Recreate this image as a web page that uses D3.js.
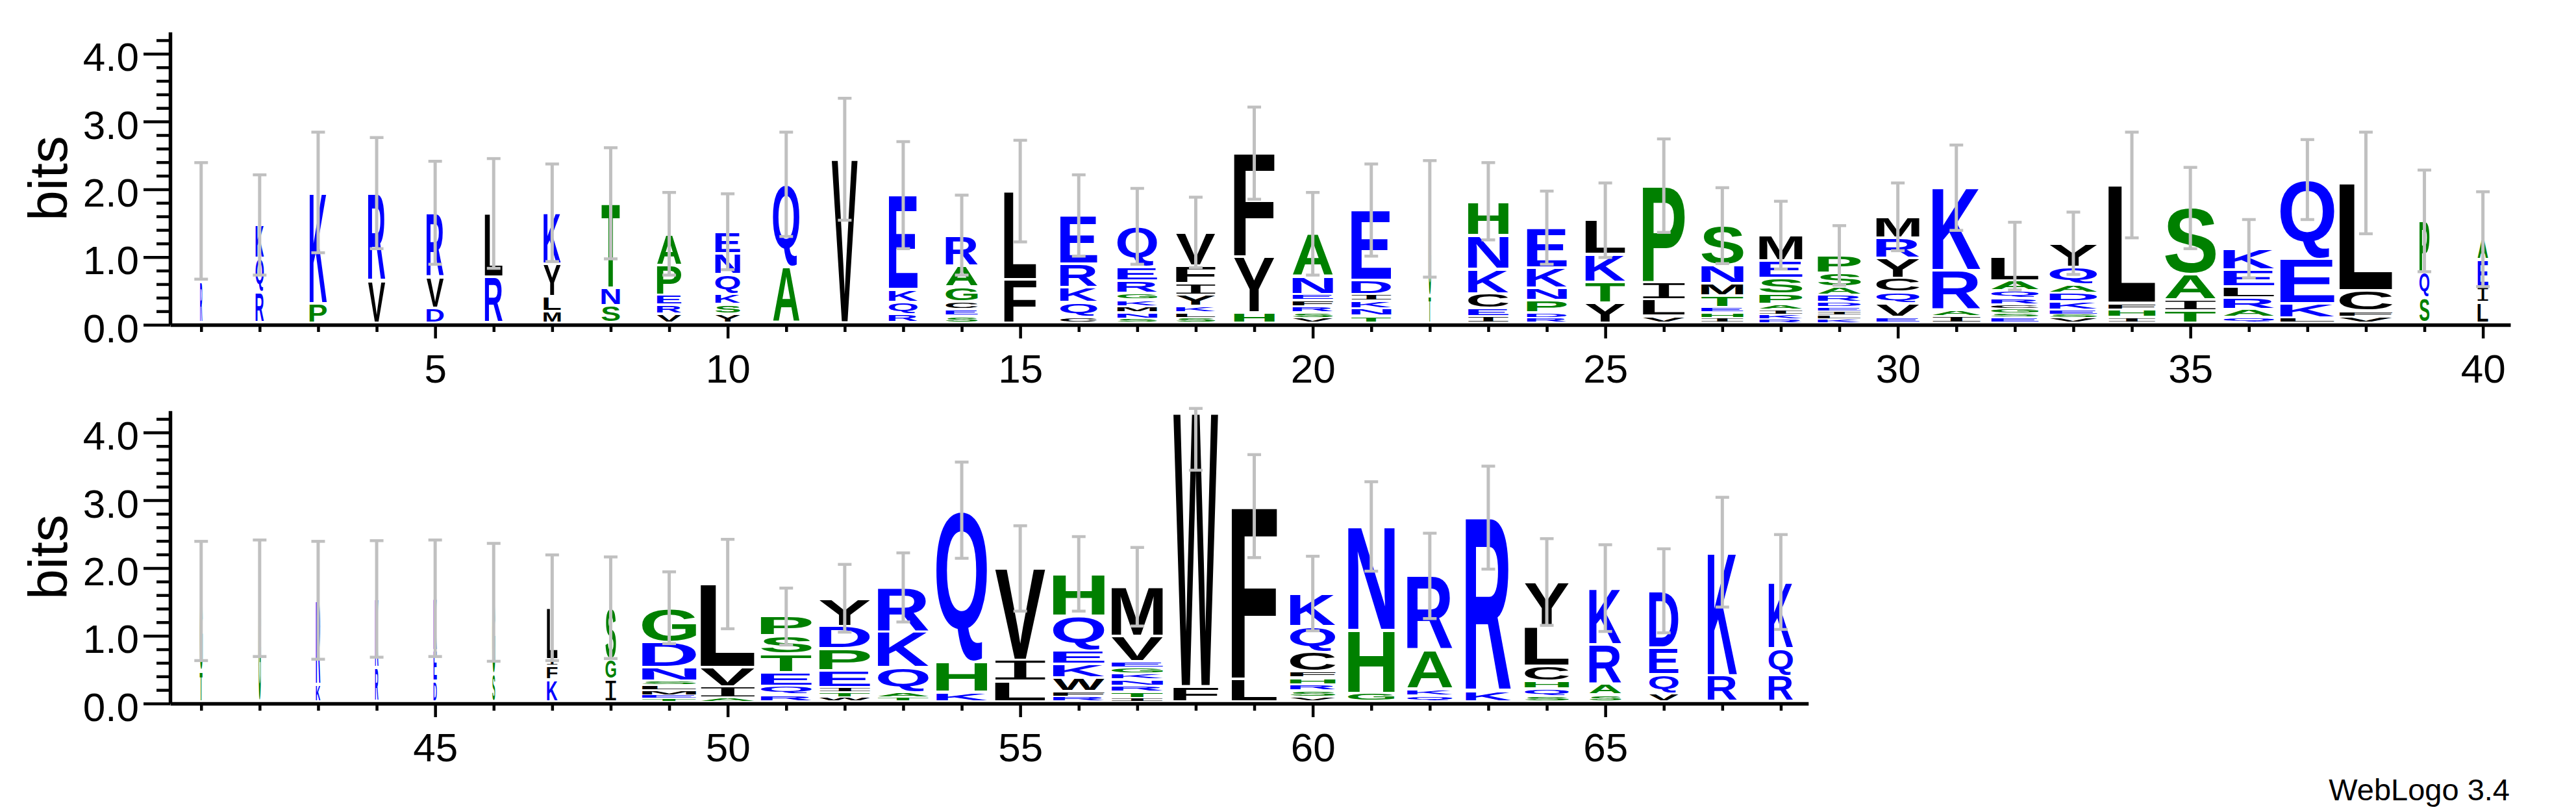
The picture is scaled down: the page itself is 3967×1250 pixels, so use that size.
<!DOCTYPE html>
<html>
<head>
<meta charset="utf-8">
<script src="https://cdn.jsdelivr.net/npm/d3@7"></script>
<style>
  body { margin: 0; background: #fff; }
  text { font-family: "Liberation Sans", Arial, Helvetica, sans-serif; }
</style>
</head>
<body>
<div id="chart"></div>
<script>
// ---------- data (bits per residue, bottom -> top of each stack) ----------
const firstPosTop = 1;
const stacksTop = [
  [["R",0.6],["K",0.9]],
  [["R",0.45],["Q",0.5],["K",0.49]],
  [["P",0.28],["K",1.64]],
  [["V",0.62],["R",1.29]],
  [["D",0.22],["V",0.46],["R",0.94]],
  [["R",0.68],["L",0.93]],
  [["M",0.17],["L",0.22],["Y",0.48],["K",0.75]],
  [["S",0.25],["N",0.26],["T",1.25]],
  [["V",0.13],["R",0.13],["E",0.15],["P",0.44],["A",0.46]],
  [["Y",0.13],["S",0.14],["K",0.15],["Q",0.29],["N",0.31],["E",0.32]],
  [["A",0.82],["Q",1.22]],
  [["V",2.41]],
  [["R",0.12],["Q",0.18],["K",0.19],["E",1.39]],
  [["S",0.1],["E",0.1],["C",0.11],["G",0.22],["A",0.31],["R",0.45]],
  [["F",0.64],["L",1.3]],
  [["C",0.08],["Q",0.22],["K",0.22],["R",0.35],["E",0.71]],
  [["S",0.06],["N",0.09],["M",0.09],["K",0.1],["G",0.1],["R",0.18],["E",0.2],["Q",0.6]],
  [["S",0.07],["L",0.08],["K",0.09],["Y",0.17],["I",0.17],["F",0.26],["V",0.49]],
  [["H",0.15],["Y",0.82],["F",1.53]],
  [["V",0.07],["S",0.08],["R",0.09],["F",0.09],["E",0.09],["N",0.26],["A",0.63]],
  [["T",0.1],["N",0.11],["K",0.11],["I",0.1],["D",0.21],["E",1.03]],
  [["T",0.4],["G",1.13]],
  [["I",0.09],["E",0.12],["C",0.22],["K",0.36],["N",0.5],["H",0.5]],
  [["R",0.07],["D",0.08],["P",0.18],["N",0.18],["K",0.3],["E",0.59]],
  [["Y",0.29],["T",0.31],["K",0.41],["L",0.5]],
  [["V",0.1],["L",0.24],["I",0.26],["P",1.42]],
  [["I",0.07],["H",0.08],["E",0.08],["T",0.17],["M",0.18],["N",0.27],["S",0.58]],
  [["R",0.05],["K",0.07],["I",0.07],["A",0.08],["P",0.15],["S",0.24],["E",0.26],["M",0.37]],
  [["K",0.05],["L",0.06],["I",0.06],["E",0.06],["D",0.07],["R",0.11],["A",0.12],["S",0.2],["P",0.26]],
  [["E",0.08],["V",0.2],["Q",0.17],["C",0.21],["Y",0.29],["R",0.3],["M",0.31]],
  [["I",0.09],["A",0.1],["R",0.58],["K",1.22]],
  [["E",0.08],["S",0.06],["G",0.07],["C",0.05],["R",0.1],["Q",0.11],["A",0.15],["L",0.36]],
  [["V",0.07],["S",0.05],["E",0.07],["K",0.12],["D",0.13],["A",0.12],["Q",0.26],["Y",0.35]],
  [["I",0.08],["H",0.11],["F",0.1],["L",1.74]],
  [["T",0.18],["I",0.16],["A",0.37],["S",0.98]],
  [["Q",0.08],["A",0.12],["R",0.17],["L",0.16],["E",0.25],["K",0.31]],
  [["L",0.07],["K",0.21],["E",0.66],["Q",1.17]],
  [["V",0.09],["F",0.08],["C",0.3],["L",1.59]],
  [["S",0.37],["Q",0.38],["P",0.75]],
  [["L",0.3],["I",0.22],["E",0.41],["A",0.3]]
];
// fraction of sequences without a gap (stack width)
const weightsTop = [0.04,0.15,0.31,0.31,0.31,0.32,0.31,0.33,0.44,0.45,
                    0.48,0.47,0.52,0.58,0.58,0.67,0.72,0.71,0.73,0.73,
                    0.72,0.04,0.73,0.72,0.72,0.76,0.76,0.78,0.78,0.78,
                    0.87,0.86,0.86,0.85,0.92,0.92,0.98,0.96,0.18,0.19];
const errorsTop = [0.86,0.74,0.89,0.82,0.76,0.81,0.72,0.82,0.61,0.56,
                   0.77,0.9,0.79,0.59,0.75,0.6,0.56,0.52,0.68,0.61,
                   0.68,0.86,0.57,0.54,0.55,0.69,0.56,0.5,0.44,0.5,
                   0.63,0.5,0.46,0.78,0.6,0.43,0.59,0.75,0.75,0.7];

const firstPosBottom = 41;
const stacksBottom = [
  [["T",0.45],["G",1.03]],
  [["G",1.52]],
  [["K",0.25],["R",1.24]],
  [["R",0.5],["K",1.01]],
  [["D",0.3],["E",0.45],["K",0.77]],
  [["S",0.4],["G",1.06]],
  [["K",0.32],["F",0.2],["I",0.1],["L",0.76]],
  [["I",0.33],["G",0.29],["S",0.76]],
  [["T",0.04],["E",0.05],["M",0.07],["L",0.08],["S",0.06],["N",0.2],["D",0.37],["G",0.51]],
  [["A",0.05],["I",0.17],["V",0.28],["L",1.23]],
  [["R",0.1],["Q",0.13],["E",0.2],["T",0.27],["S",0.27],["P",0.28]],
  [["W",0.06],["T",0.08],["I",0.07],["E",0.25],["P",0.32],["D",0.33],["Y",0.41]],
  [["T",0.06],["A",0.08],["Q",0.36],["K",0.53],["R",0.65]],
  [["K",0.14],["H",0.44],["Q",2.24]],
  [["L",0.3],["I",0.31],["V",1.35]],
  [["R",0.07],["F",0.08],["W",0.2],["K",0.2],["E",0.2],["Q",0.51],["H",0.62]],
  [["I",0.05],["T",0.09],["R",0.09],["N",0.09],["K",0.09],["G",0.09],["E",0.09],["V",0.37],["M",0.73]],
  [["F",0.22],["W",4.04]],
  [["L",0.33],["F",2.55]],
  [["V",0.06],["S",0.1],["R",0.09],["H",0.1],["F",0.09],["C",0.29],["Q",0.38],["K",0.48]],
  [["G",0.12],["H",0.93],["N",1.53]],
  [["Q",0.08],["K",0.1],["A",0.57],["R",1.1]],
  [["K",0.15],["R",2.56]],
  [["S",0.08],["Q",0.11],["H",0.11],["C",0.22],["L",0.58],["Y",0.66]],
  [["S",0.1],["A",0.16],["R",0.58],["K",0.83]],
  [["V",0.12],["Q",0.28],["E",0.39],["D",0.84]],
  [["R",0.38],["K",1.82]],
  [["R",0.38],["Q",0.4],["K",0.98]]
];
const weightsBottom = [0.05,0.04,0.08,0.06,0.06,0.05,0.19,0.19,0.98,0.98,
                       0.92,0.92,0.92,0.92,0.91,0.93,0.93,0.81,0.82,0.82,
                       0.84,0.82,0.82,0.8,0.58,0.53,0.53,0.44];
const errorsBottom = [0.88,0.86,0.87,0.86,0.86,0.87,0.78,0.75,0.53,0.66,
                      0.42,0.5,0.51,0.71,0.63,0.55,0.58,0.85,0.76,0.55,
                      0.66,0.63,0.76,0.64,0.64,0.62,0.81,0.7];

const yMajorTicks = [0, 1, 2, 3, 4];
const yMinorStep = 0.2;
const xLabelEvery = 5;
const maxBits = Math.log2(20);

// hydrophobicity colour scheme
const colorGroups = [
  {letters: "RKDENQ", color: "#0000ff"},
  {letters: "SGHTAP", color: "#008000"},
  {letters: "YVMCLFIW", color: "#000000"}
];
const letterColor = ch => (colorGroups.find(gr => gr.letters.includes(ch)) || {color: "#000"}).color;

// ---------- layout ----------
const W = 3967, H = 1250;
const axisX = 262;
const colStep = 90.1;
const maxStackWidth = 85;

const svg = d3.select("#chart").append("svg")
  .attr("width", W).attr("height", H)
  .style("background", "#fff");

// glyph ink bounds, used to stretch each letter into its box
// (the logo font draws I with slab bars, so I comes from a mono face)
const FONT_PX = 200;
const fontFor = ch => ch === "I"
  ? {family: '"DejaVu Sans Mono", monospace', weight: "normal"}
  : {family: '"Liberation Sans", Arial, sans-serif', weight: "bold"};
const ctx = document.createElement("canvas").getContext("2d");
const glyphCache = {};
const glyphBox = ch => {
  if (!glyphCache[ch]) {
    const f = fontFor(ch);
    ctx.font = `${f.weight} ${FONT_PX}px ${f.family}`;
    const m = ctx.measureText(ch);
    glyphCache[ch] = {l: m.actualBoundingBoxLeft, r: m.actualBoundingBoxRight,
                      a: m.actualBoundingBoxAscent, d: m.actualBoundingBoxDescent};
  }
  return glyphCache[ch];
};

const drawGlyph = (g, ch, bx, by, bw, bh) => {
  if (bh < 0.4 || bw < 0.4) return;
  const b = glyphBox(ch);
  const f = fontFor(ch);
  const sx = bw / (b.l + b.r), sy = bh / (b.a + b.d);
  g.append("text")
    .attr("transform", `translate(${bx + b.l * sx},${by + b.a * sy}) scale(${sx},${sy})`)
    .attr("font-size", FONT_PX)
    .style("font-family", f.family)
    .style("font-weight", f.weight)
    .attr("fill", letterColor(ch))
    .text(ch);
};

const drawPanel = (y0, firstPos, nPos, stacks, weights, errors) => {
  const g = svg.append("g");
  const x = d3.scaleLinear()
    .domain([firstPos - 0.53, firstPos - 0.53 + 40])
    .range([axisX, axisX + 40 * colStep]);
  const y = d3.scaleLinear().domain([0, maxBits]).range([y0, y0 - maxBits * 104.3]);
  const pxPerBit = y(0) - y(1);

  // y axis
  const yTicks = d3.range(0, maxBits, yMinorStep).map(v => +v.toFixed(1));
  const yAxis = g.append("g")
    .attr("transform", `translate(${axisX},0)`)
    .call(d3.axisLeft(y).tickValues(yTicks).tickSizeOuter(0)
      .tickFormat(v => yMajorTicks.includes(v) ? d3.format(".1f")(v) : ""));
  yAxis.select(".domain").attr("stroke-width", 5.5);
  yAxis.selectAll(".tick line")
    .attr("stroke-width", 4.5)
    .attr("x2", v => yMajorTicks.includes(v) ? -41 : -21);
  yAxis.selectAll(".tick text")
    .attr("x", -48).attr("dy", "0.42em")
    .attr("font-size", 62).attr("font-family", null).attr("fill", "#000");

  // x axis
  const lastPos = firstPos + nPos - 1;
  const xEnd = x(lastPos + 0.47);
  const xAxisScale = x.copy().domain([firstPos - 0.53, lastPos + 0.47]).range([axisX, xEnd]);
  const xAxis = g.append("g")
    .attr("transform", `translate(0,${y0})`)
    .call(d3.axisBottom(xAxisScale).tickValues(d3.range(firstPos, lastPos + 1)).tickSizeOuter(0)
      .tickFormat(v => v % xLabelEvery === 0 ? String(v) : ""));
  xAxis.select(".domain").attr("stroke-width", 5.5);
  xAxis.selectAll(".tick line")
    .attr("stroke-width", 4.5)
    .attr("y2", v => v % xLabelEvery === 0 ? 21 : 11);
  xAxis.selectAll(".tick text")
    .attr("y", 89).attr("dy", 0)
    .attr("font-size", 62).attr("font-family", null).attr("fill", "#000");

  // y label
  g.append("text")
    .attr("transform", `translate(103,${y(maxBits / 2)}) rotate(-90)`)
    .attr("text-anchor", "middle")
    .attr("font-size", 84)
    .text("bits");

  // letter stacks
  const marks = g.append("g").attr("transform", "translate(0,-3.5)");
  stacks.forEach((stack, i) => {
    const pos = firstPos + i;
    const w = weights[i] * maxStackWidth;
    const cx = x(pos);
    let base = y(0);
    stack.forEach(([ch, bits]) => {
      const h = bits * pxPerBit;
      const inset = Math.min(2, h * 0.18);
      drawGlyph(marks, ch, cx - w / 2, base - h + inset, w, h - 2 * inset);
      base -= h;
    });
  });

  // error bars
  const errG = marks.append("g").attr("stroke", "#c0c0c0").attr("fill", "none");
  stacks.forEach((stack, i) => {
    const pos = firstPos + i;
    const cx = x(pos);
    const total = d3.sum(stack, d => d[1]);
    const hi = Math.min(maxBits, total + errors[i]);
    const lo = Math.max(0, total - errors[i]);
    errG.append("line")
      .attr("x1", cx).attr("x2", cx)
      .attr("y1", y(hi)).attr("y2", y(lo))
      .attr("stroke-width", 5);
    [hi, lo].forEach(v => {
      errG.append("line")
        .attr("x1", cx - 10.5).attr("x2", cx + 10.5)
        .attr("y1", y(v)).attr("y2", y(v))
        .attr("stroke-width", 4.5);
    });
  });
};

drawPanel(500, firstPosTop, stacksTop.length, stacksTop, weightsTop, errorsTop);
drawPanel(1083, firstPosBottom, stacksBottom.length, stacksBottom, weightsBottom, errorsBottom);

svg.append("text")
  .attr("x", 3865).attr("y", 1232)
  .attr("text-anchor", "end")
  .attr("font-size", 47)
  .text("WebLogo 3.4");
</script>
</body>
</html>
